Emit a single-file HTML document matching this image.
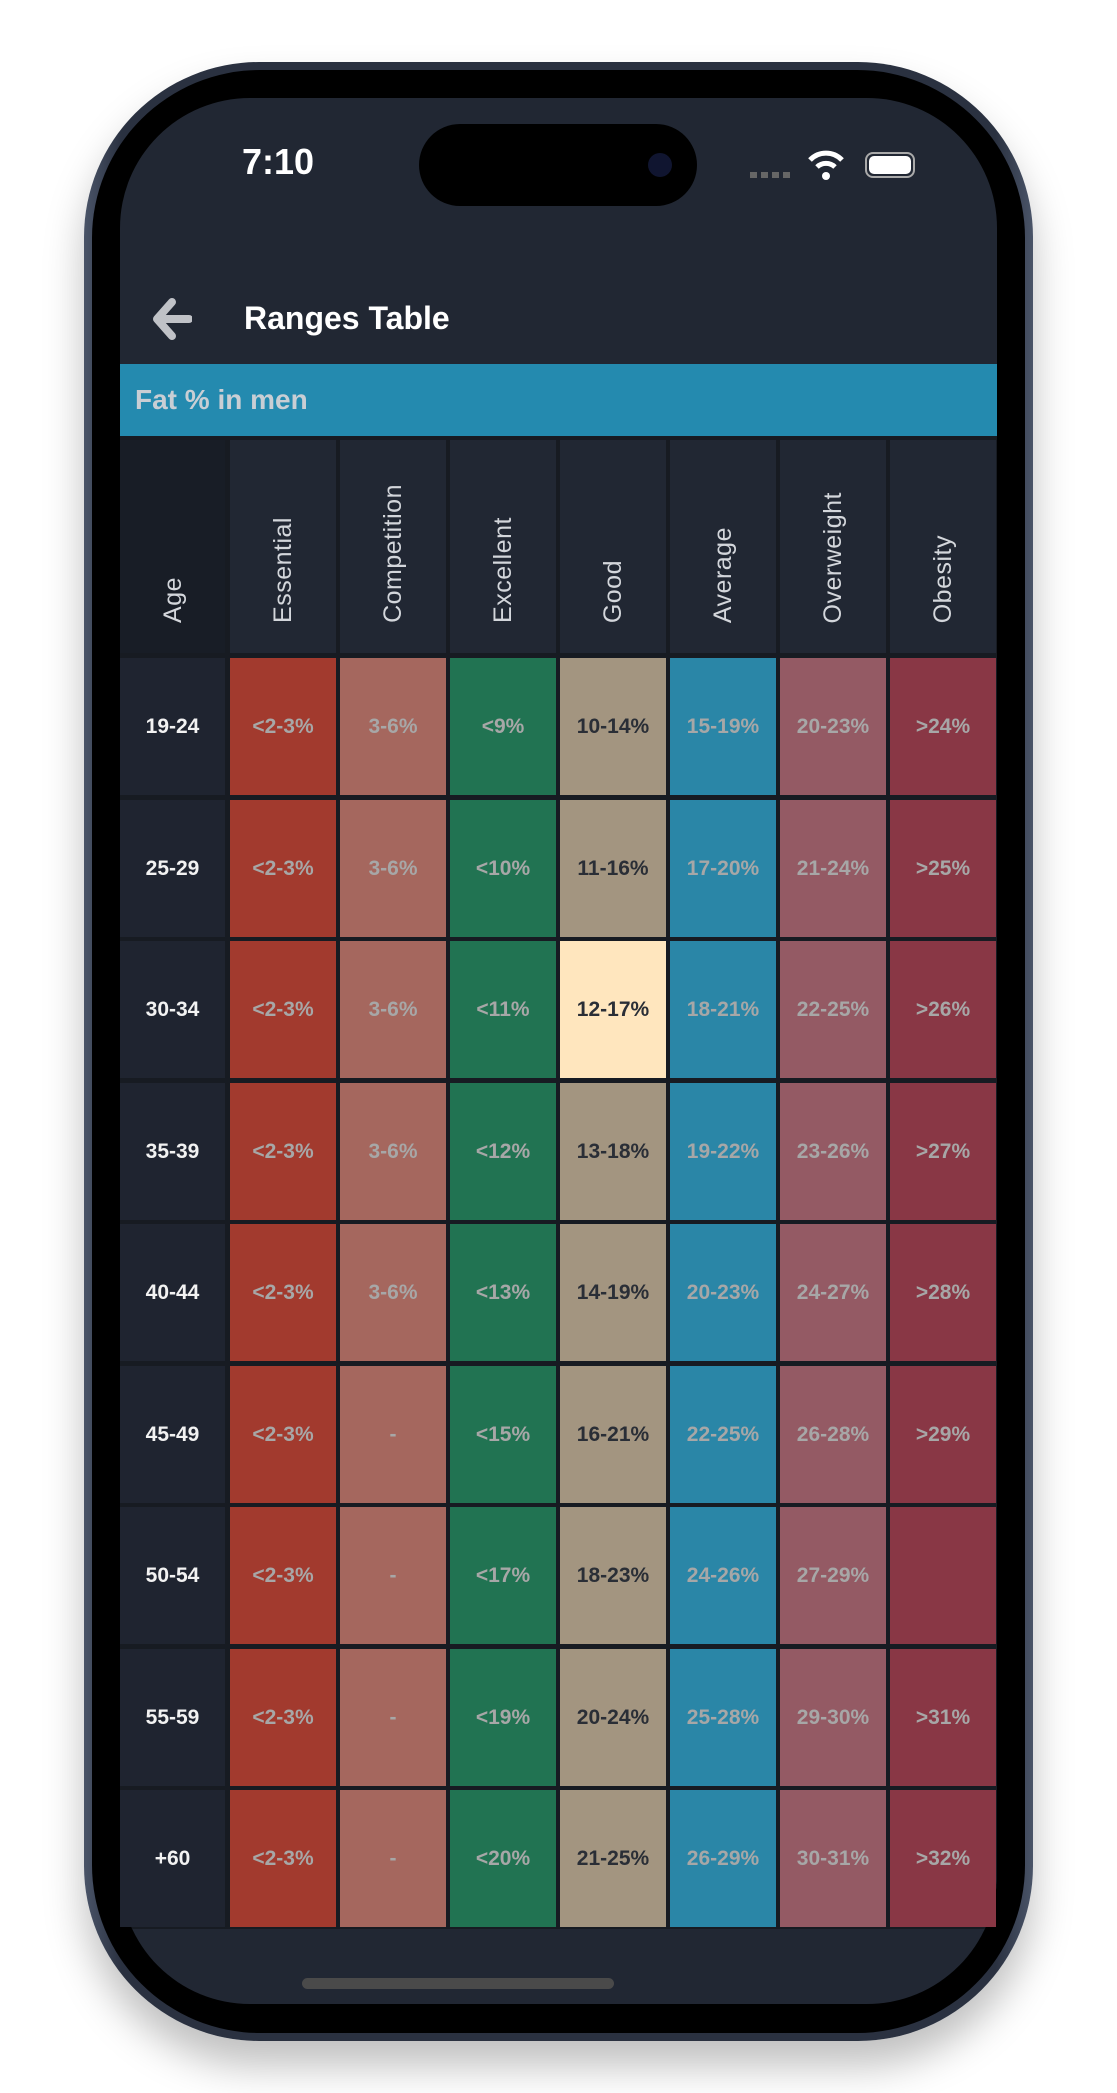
<!DOCTYPE html>
<html><head><meta charset="utf-8"><style>
*{margin:0;padding:0;box-sizing:border-box}
body{width:1117px;height:2093px;background:#fff;position:relative;overflow:hidden;font-family:"Liberation Sans",sans-serif}
.abs{position:absolute}
.frame{left:84px;top:62px;width:949px;height:1979px;border-radius:175px;background:linear-gradient(90deg,#4a5468,#2a3140 4%,#2a3140 96%,#4a5468);box-shadow:0 25px 40px rgba(0,0,0,.25)}
.bezel{left:92px;top:70px;width:933px;height:1963px;border-radius:168px;background:#000}
.screen{left:120px;top:98px;width:877px;height:1906px;border-radius:130px;background:#212733;overflow:hidden}
.c{position:absolute;display:flex;align-items:center;justify-content:center;font-weight:bold;font-size:21px;color:#a7a7a7}
.h{position:absolute;background:#212733}
.h span{position:absolute;left:50%;bottom:30px;margin-left:-15px;width:30px;writing-mode:vertical-rl;transform:rotate(180deg);white-space:nowrap;color:#d3d6db;font-size:25px;letter-spacing:.5px;line-height:30px}
</style></head><body>
<div class="abs frame"></div>
<div class="abs bezel"></div>
<div class="abs screen">
  <div class="abs" style="left:0;top:266px;width:877px;height:72px;background:#248aaf"></div>
  <div class="abs" style="left:0;top:338px;width:877px;height:1493px;background:#171b22"></div>
  <div class="abs" style="left:182px;top:1880px;width:312px;height:11px;border-radius:6px;background:#4a4a4a"></div>
</div>
<div class="abs" style="left:419px;top:124px;width:278px;height:82px;border-radius:41px;background:#000"></div>
<div class="abs" style="left:648px;top:153px;width:24px;height:24px;border-radius:12px;background:#101530"></div>
<div class="abs" style="left:242px;top:141px;font-size:36px;font-weight:bold;color:#fff">7:10</div>
<div class="abs" style="left:750px;top:172px;width:42px;height:6px;background:repeating-linear-gradient(90deg,#666 0 7px,transparent 7px 11px)"></div>
<svg class="abs" style="left:808px;top:148px" width="36" height="34" viewBox="0 0 36 34"><path d="M2 12 A22 22 0 0 1 34 12" stroke="#fff" stroke-width="5" fill="none"/><path d="M9 19 A13 13 0 0 1 27 19" stroke="#fff" stroke-width="5" fill="none"/><circle cx="18" cy="28" r="4" fill="#fff"/></svg>
<div class="abs" style="left:865px;top:152px;width:50px;height:26px;border:2px solid #aaa;border-radius:8px;padding:2px"><div style="width:100%;height:100%;background:#fff;border-radius:5px"></div></div>
<svg class="abs" style="left:152px;top:298px" width="40" height="42" viewBox="0 0 40 42"><path d="M20 4 L5 21 L20 38 M6 21 H37" stroke="#c0c2c7" stroke-width="8" fill="none" stroke-linejoin="round" stroke-linecap="round"/></svg>
<div class="abs" style="left:244px;top:300px;font-size:32px;font-weight:bold;color:#fff">Ranges Table</div>
<div class="abs" style="left:135px;top:384px;font-size:28px;font-weight:bold;color:#c9ced4">Fat % in men</div>
<div id="t"></div>
<script>
var cols=["Essential","Competition","Excellent","Good","Average","Overweight","Obesity"];
var bg=["#a23a2e","#a5675e","#217352","#a39580","#2a86a7","#945a64","#893745"];
var ages=["19-24","25-29","30-34","35-39","40-44","45-49","50-54","55-59","+60"];
var d=[["<2-3%","3-6%","<9%","10-14%","15-19%","20-23%",">24%"],
["<2-3%","3-6%","<10%","11-16%","17-20%","21-24%",">25%"],
["<2-3%","3-6%","<11%","12-17%","18-21%","22-25%",">26%"],
["<2-3%","3-6%","<12%","13-18%","19-22%","23-26%",">27%"],
["<2-3%","3-6%","<13%","14-19%","20-23%","24-27%",">28%"],
["<2-3%","-","<15%","16-21%","22-25%","26-28%",">29%"],
["<2-3%","-","<17%","18-23%","24-26%","27-29%",""],
["<2-3%","-","<19%","20-24%","25-28%","29-30%",">31%"],
["<2-3%","-","<20%","21-25%","26-29%","30-31%",">32%"]];
(function(){
var h='<div class="h" style="left:120px;top:440px;width:105px;height:213px;background:#181d26"><span>Age</span></div>';
for(var i=0;i<7;i++)h+='<div class="h" style="left:'+(230+110*i)+'px;top:440px;width:106px;height:213px"><span>'+cols[i]+'</span></div>';
for(var r=0;r<9;r++){var ty=Math.round(658+141.5*r);
h+='<div class="c" style="left:120px;top:'+ty+'px;width:105px;height:137px;background:#1f2430;color:#f2f2f2">'+ages[r]+'</div>';
for(var i=0;i<7;i++){var b=bg[i],col="#a7a7a7";if(i==3){col="#2a2e36";if(r==2)b="#ffe6be";}
h+='<div class="c" style="left:'+(230+110*i)+'px;top:'+ty+'px;width:106px;height:137px;background:'+b+';color:'+col+'">'+d[r][i]+'</div>';}}
document.getElementById('t').innerHTML=h;
})();
</script>
</body></html>
